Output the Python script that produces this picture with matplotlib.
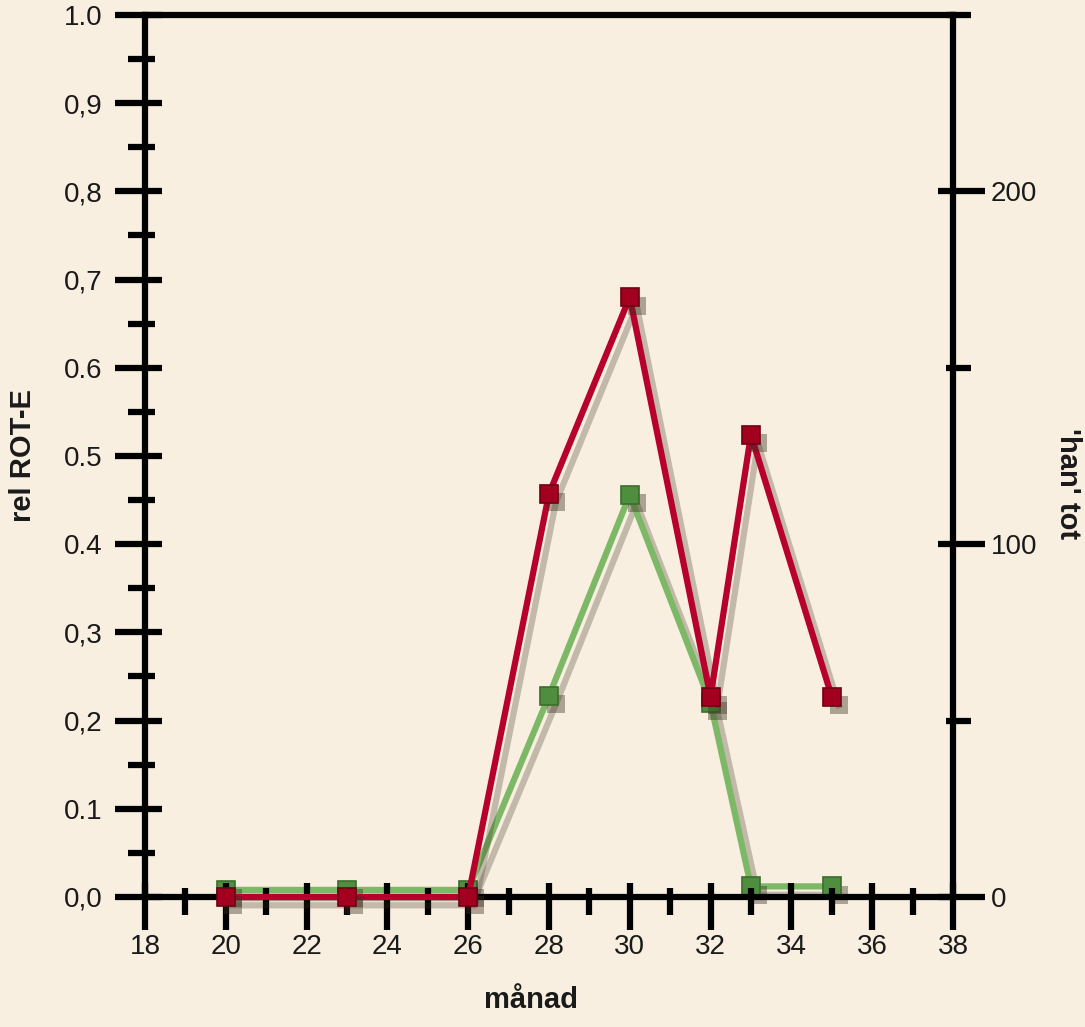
import matplotlib
matplotlib.use("Agg")
import matplotlib.pyplot as plt
import matplotlib.patheffects as pe
from matplotlib.ticker import MultipleLocator, FixedLocator

plt.rcParams['font.family'] = ['Liberation Sans', 'DejaVu Sans']

# data
manad = [20, 23, 26, 28, 30, 32, 33, 35]
rel_rot_e = [0.0, 0.0, 0.0, 0.457, 0.68, 0.227, 0.524, 0.227]
han_tot = [2, 2, 2, 57, 114, 55, 3, 3]

x_ticks = [18, 20, 22, 24, 26, 28, 30, 32, 34, 36, 38]
left_ticks = [0.0, 0.1, 0.2, 0.3, 0.4, 0.5, 0.6, 0.7, 0.8, 0.9, 1.0]
left_labels = ['0,0', '0.1', '0,2', '0,3', '0.4', '0.5', '0.6', '0,7', '0,8', '0,9', '1.0']
right_ticks = [0, 100, 200]

bg = '#F8EFE0'
red = '#B8002C'
green = '#7CB866'
txt = '#1a1a1a'
lw_axis = 4.5

fig = plt.figure(figsize=(10.85, 10.27), dpi=100, facecolor=bg)
ax2 = fig.add_axes([0.1336, 0.1266, 0.7447, 0.8588])
ax = fig.add_axes([0.1336, 0.1266, 0.7447, 0.8588], sharex=ax2)
ax2.set_facecolor(bg)
ax.patch.set_visible(False)

ax.set_xlim(18, 38)
ax.set_ylim(0, 1.0)
ax2.set_ylim(0, 250)

line_shadow = [pe.SimpleLineShadow(offset=(5, -6), shadow_color='#3a3020', alpha=0.28),
               pe.Normal()]
mark_shadow = [pe.SimplePatchShadow(offset=(5, -6), shadow_rgbFace='#3a3020', alpha=0.4),
               pe.Normal()]

# green series on the right scale
ax2.plot(manad, han_tot, color=green, lw=4.5, clip_on=False, zorder=4,
         path_effects=line_shadow)
ax2.plot(manad, han_tot, ls='none', marker='s', ms=13, mfc='#4F8E3E',
         mec='#3A6E2C', mew=1.2, clip_on=False, zorder=5, path_effects=mark_shadow)

# red series on the left scale
ax.plot(manad, rel_rot_e, color=red, lw=4.5, clip_on=False, zorder=4,
        path_effects=line_shadow)
ax.plot(manad, rel_rot_e, ls='none', marker='s', ms=13, mfc='#A3001F',
        mec='#6E0014', mew=1.2, clip_on=False, zorder=5, path_effects=mark_shadow)

# spines
for s in ['top', 'left', 'bottom']:
    ax.spines[s].set_linewidth(lw_axis)
ax.spines['right'].set_visible(False)
for s in ['top', 'left', 'bottom']:
    ax2.spines[s].set_visible(False)
ax2.spines['right'].set_linewidth(lw_axis)

# x axis
ax.set_xticks(x_ticks)
ax.xaxis.set_minor_locator(MultipleLocator(1))
ax.tick_params(axis='x', which='major', direction='out', length=24, width=lw_axis,
               labelsize=20, pad=3, labelcolor=txt)
ax.tick_params(axis='x', which='minor', direction='out', length=13, width=lw_axis)
ax2.tick_params(axis='x', which='both', bottom=False, labelbottom=False)

# left axis
ax.set_yticks(left_ticks)
ax.set_yticklabels(left_labels)
ax.yaxis.set_minor_locator(FixedLocator([0.05 + 0.1 * i for i in range(10)]))
ax.tick_params(axis='y', which='major', direction='out', length=21.5, width=lw_axis,
               labelsize=20, pad=9, labelcolor=txt)
ax.tick_params(axis='y', which='minor', direction='out', length=12, width=lw_axis)

# right axis
ax2.yaxis.tick_right()
ax2.set_yticks(right_ticks)
ax2.yaxis.set_minor_locator(FixedLocator([50, 150, 250]))
ax2.tick_params(axis='y', which='major', direction='out', length=23, width=lw_axis,
                labelsize=20, pad=4, labelcolor=txt)
ax2.tick_params(axis='y', which='minor', direction='out', length=13, width=lw_axis)

# inner parts of the crossing ticks
sx = ax.secondary_xaxis(0.0)
sx.set_xticks(x_ticks)
sx.xaxis.set_minor_locator(MultipleLocator(1))
sx.tick_params(which='major', direction='in', length=10, width=lw_axis, labelbottom=False)
sx.tick_params(which='minor', direction='in', length=6.5, width=lw_axis)
sy = ax.secondary_yaxis(0.0)
sy.set_yticks(left_ticks)
sy.yaxis.set_minor_locator(FixedLocator([0.05 + 0.1 * i for i in range(10)]))
sy.tick_params(which='major', direction='in', length=12, width=lw_axis, labelleft=False)
sy.tick_params(which='minor', direction='in', length=7, width=lw_axis)
sr = ax2.secondary_yaxis(1.0)
sr.set_yticks(right_ticks)
sr.yaxis.set_minor_locator(FixedLocator([50, 150, 250]))
sr.tick_params(which='major', direction='in', length=11, width=lw_axis, labelright=False)
sr.tick_params(which='minor', direction='in', length=5, width=lw_axis)
for sec in (sx, sy, sr):
    for sp in sec.spines.values():
        sp.set_visible(False)

# axis titles
ax.set_xlabel('månad', fontsize=21, fontweight='bold', color=txt, va='center')
ax.xaxis.set_label_coords(0.478, -0.117)
ax.set_ylabel('rel ROT-E', fontsize=21, fontweight='bold', color=txt, va='center')
ax.yaxis.set_label_coords(-0.151, 0.5)
ax2.set_ylabel("'han' tot", fontsize=21, fontweight='bold', color=txt,
               rotation=270, va='center')
ax2.yaxis.set_label_coords(1.142, 0.469)

fig.savefig('out.png', dpi=100, facecolor=bg)
